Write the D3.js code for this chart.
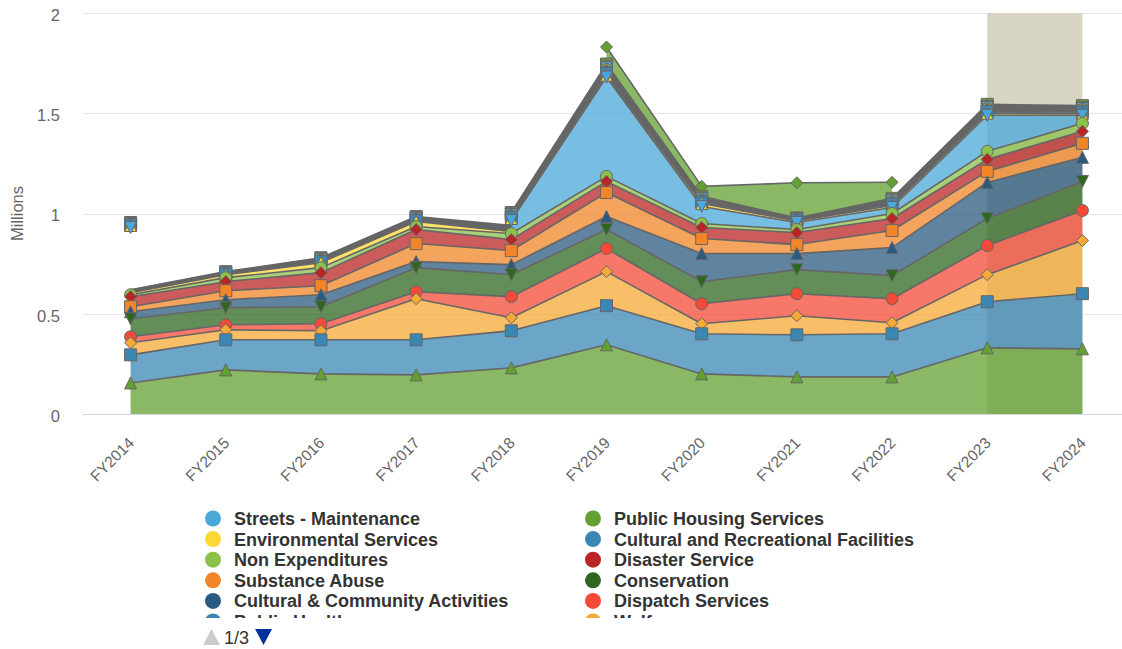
<!DOCTYPE html>
<html><head><meta charset="utf-8">
<script src="https://cdn.jsdelivr.net/npm/d3@7"></script>
<style>
body{margin:0;background:#fff;}
svg{display:block;font-family:"Liberation Sans",Arial,Helvetica,sans-serif;}
</style>
</head><body>
<svg id="chart" width="1122" height="649"></svg>
<script>
// ---------- DATA (millions) ----------
const categories = ["FY2014","FY2015","FY2016","FY2017","FY2018","FY2019","FY2020","FY2021","FY2022","FY2023","FY2024"];
const yTicks = [0, 0.5, 1, 1.5, 2];
const yTickLabels = ["0", "0.5", "1", "1.5", "2"];
const yAxisTitle = "Millions";

// stacked bottom -> top
const publicSafety        = [0.155, 0.22, 0.20, 0.195, 0.23, 0.345, 0.20, 0.185, 0.185, 0.33, 0.325];
const publicHealth        = [0.14, 0.15, 0.17, 0.175, 0.185, 0.195, 0.20, 0.21, 0.215, 0.23, 0.275];
const welfare             = [0.06, 0.05, 0.045, 0.205, 0.065, 0.17, 0.05, 0.095, 0.055, 0.135, 0.265];
const dispatchServices    = [0.03, 0.025, 0.035, 0.035, 0.105, 0.115, 0.10, 0.11, 0.12, 0.145, 0.15];
const conservation        = [0.09, 0.085, 0.085, 0.12, 0.11, 0.095, 0.11, 0.12, 0.115, 0.135, 0.145];
const culturalCommunity   = [0.035, 0.04, 0.06, 0.03, 0.05, 0.065, 0.14, 0.08, 0.14, 0.18, 0.12];
const substanceAbuse      = [0.025, 0.045, 0.045, 0.09, 0.07, 0.12, 0.075, 0.045, 0.085, 0.055, 0.07];
const disasterService     = [0.05, 0.045, 0.065, 0.07, 0.055, 0.055, 0.055, 0.06, 0.06, 0.06, 0.06];
const nonExpenditures     = [0.01, 0.02, 0.025, 0.015, 0.03, 0.025, 0.02, 0.015, 0.025, 0.04, 0.04];
const streetsMaintenance  = [0.335, null, null, null, 0.065, 0.495, 0.085, 0.035, 0.03, 0.18, 0.04];
const environmental       = [0.01, 0.015, 0.025, 0.025, 0.01, 0.01, 0.015, 0.008, 0.01, 0.01, 0.008];
const culturalRecreation  = [0.003, 0.003, 0.005, 0.005, 0.006, 0.011, 0.007, 0.003, 0.007, 0.009, 0.008];
const parks               = [0.0015, 0.0015, 0.0025, 0.0025, 0.003, 0.0055, 0.0035, 0.0015, 0.0035, 0.0045, 0.004];
const judicial            = [0.0015, 0.0015, 0.0025, 0.0025, 0.003, 0.0055, 0.0035, 0.0015, 0.0035, 0.0045, 0.004];
const libraries           = [0.0015, 0.0015, 0.0025, 0.0025, 0.003, 0.0055, 0.0035, 0.0015, 0.0035, 0.0045, 0.004];
const transit             = [0.001, 0.001, 0.002, 0.002, 0.0025, 0.0045, 0.003, 0.001, 0.003, 0.0035, 0.003];
const planning            = [0.001, 0.001, 0.002, 0.002, 0.0025, 0.0045, 0.003, 0.001, 0.003, 0.0035, 0.003];
const economicDevelopment = [0.0015, 0.0015, 0.0025, 0.0025, 0.003, 0.0055, 0.0035, 0.0015, 0.0035, 0.0045, 0.004];
const debtService         = [0.0015, 0.0015, 0.0025, 0.0025, 0.003, 0.0055, 0.0035, 0.0015, 0.0035, 0.0045, 0.004];
const generalGovernment   = [0.0025, 0.0025, 0.003, 0.003, 0.004, 0.008, 0.005, 0.0025, 0.005, 0.006, 0.006];
const publicHousing       = [null, null, null, null, null, 0.085, 0.05, 0.175, 0.08, null, null];

const seriesNames = ["Public Safety","Public Health","Welfare","Dispatch Services","Conservation",
  "Cultural & Community Activities","Substance Abuse","Disaster Service","Non Expenditures",
  "Streets - Maintenance","Environmental Services","Cultural and Recreational Facilities","Parks",
  "Judicial","Libraries","Transit","Planning & Zoning","Economic Development","Debt Service",
  "General Government","Public Housing Services"];
const seriesValues = [publicSafety, publicHealth, welfare, dispatchServices, conservation,
  culturalCommunity, substanceAbuse, disasterService, nonExpenditures, streetsMaintenance,
  environmental, culturalRecreation, parks, judicial, libraries, transit, planning,
  economicDevelopment, debtService, generalGovernment, publicHousing];

// legend order
const legendOrder = ["Streets - Maintenance","Public Housing Services","Environmental Services",
  "Cultural and Recreational Facilities","Non Expenditures","Disaster Service","Substance Abuse",
  "Conservation","Cultural & Community Activities","Dispatch Services","Public Health","Welfare",
  "Public Safety","Parks","Judicial","Libraries","Transit","Planning & Zoning","Economic Development",
  "Debt Service","General Government"];
const highlightFrom = "FY2023", highlightTo = "FY2024";

// ---------- STYLES ----------
const seriesColors = ["#63a032","#3a87b4","#f7a935","#f44a37","#2f6721","#2b5a80","#f28528","#bb2424",
  "#8cc14a","#4aa8d8","#fdd835","#3a87b4","#f44a37","#bb2424","#8cc14a","#fdd835","#4aa8d8",
  "#f28528","#bb2424","#63a032","#63a032"];
const seriesSymbols = ["triangle","square","diamond","circle","triangle-down","triangle","square","diamond",
  "circle","triangle-down","triangle","square","circle","diamond","circle","triangle","triangle-down",
  "square","diamond","square","diamond"];

// ---------- LAYOUT ----------
const plotL = 83, plotR = 1130, plotT = 13, plotB = 414;
const x = d3.scalePoint().domain(categories).range([plotL, plotR]).padding(0.5);
const y = d3.scaleLinear().domain([0, 2]).range([plotB, plotT]);
const color = d3.scaleOrdinal().domain(seriesNames).range(seriesColors);
const svg = d3.select("#chart");

// symbols (Highcharts-like, r = half box)
const R = 6;
const symbolTypes = {
  "circle": { draw(c, s){ const r=Math.sqrt(s); c.moveTo(r,0); c.arc(0,0,r,0,2*Math.PI); } },
  "square": { draw(c, s){ const r=Math.sqrt(s); c.rect(-r,-r,2*r,2*r); } },
  "diamond": { draw(c, s){ const r=Math.sqrt(s); c.moveTo(0,-r); c.lineTo(r,0); c.lineTo(0,r); c.lineTo(-r,0); c.closePath(); } },
  "triangle": { draw(c, s){ const r=Math.sqrt(s); c.moveTo(0,-r); c.lineTo(r,r); c.lineTo(-r,r); c.closePath(); } },
  "triangle-down": { draw(c, s){ const r=Math.sqrt(s); c.moveTo(-r,-r); c.lineTo(r,-r); c.lineTo(0,r); c.closePath(); } }
};
const sym = t => d3.symbol().type(symbolTypes[t]).size(R*R)();

// gridlines
svg.append("g").selectAll("line").data(yTicks.filter(d=>d>0)).join("line")
  .attr("x1", plotL).attr("x2", plotR)
  .attr("y1", d => Math.round(y(d)) + 0.5).attr("y2", d => Math.round(y(d)) + 0.5)
  .attr("stroke", "#e6e6e6").attr("stroke-width", 1);

// plot band
svg.append("rect")
  .attr("x", x(highlightFrom)).attr("width", x(highlightTo) - x(highlightFrom))
  .attr("y", y(2)).attr("height", y(0) - y(2))
  .attr("fill", "#d8d5c5");

// stacking with Highcharts-style cliffs at null points
const n = seriesValues.length, m = categories.length;
const def = (s, i) => seriesValues[s][i] != null;
function cum(s, i, keep) { let t = 0; for (let k = 0; k <= s; k++) if (def(k, i) && keep(k)) t += seriesValues[k][i]; return t; }

function segPoints(s) {
  const runs = []; let cur = [];
  for (let i = 0; i < m - 1; i++) {
    if (def(s, i) && def(s, i + 1)) {
      const keep = k => def(k, i) && def(k, i + 1);
      const lt = cum(s, i, keep), rt = cum(s, i + 1, keep);
      cur.push({ x: x(categories[i]), y1: lt, y0: lt - seriesValues[s][i] });
      cur.push({ x: x(categories[i + 1]), y1: rt, y0: rt - seriesValues[s][i + 1] });
    } else if (cur.length) { runs.push(cur); cur = []; }
  }
  if (cur.length) runs.push(cur);
  return runs;
}
const areaGen = d3.area().x(d => d.x).y0(d => y(d.y0)).y1(d => y(d.y1));
const lineGen = d3.line().x(d => d.x).y(d => y(d.y1));

const seriesG = svg.append("g");
const order = d3.range(n).reverse(); // top of stack drawn first (Highcharts index 0)
order.forEach(s => {
  const g = seriesG.append("g");
  segPoints(s).forEach(run => {
    g.append("path").attr("d", areaGen(run)).attr("fill", color(seriesNames[s])).attr("fill-opacity", 0.75);
    g.append("path").attr("d", lineGen(run)).attr("fill", "none").attr("stroke", "#666666")
      .attr("stroke-width", 1.6).attr("stroke-linejoin", "round");
  });
});

// x axis line
svg.append("line").attr("x1", plotL).attr("x2", plotR).attr("y1", plotB + 0.5).attr("y2", plotB + 0.5)
  .attr("stroke", "#ccd6eb").attr("stroke-width", 1);

// markers
const markerG = svg.append("g");
order.forEach(s => {
  for (let i = 0; i < m; i++) {
    if (!def(s, i)) continue;
    const v = cum(s, i, () => true);
    markerG.append("path").attr("d", sym(seriesSymbols[s]))
      .attr("transform", `translate(${x(categories[i])},${y(v)})`)
      .attr("fill", color(seriesNames[s])).attr("stroke", "#666666").attr("stroke-width", 1);
  }
});

// y axis labels
const yAxis = svg.append("g").attr("transform", "translate(60,0)")
  .call(d3.axisLeft(y).tickValues(yTicks).tickFormat((d, i) => yTickLabels[i]).tickSize(0).tickPadding(0));
yAxis.select(".domain").remove();
yAxis.selectAll("text").attr("font-family", "Liberation Sans, Arial, sans-serif").attr("font-size", 16.5)
  .attr("fill", "#666666").attr("x", 0).attr("dy", "0.45em");

svg.append("text").attr("transform", `translate(23,${(plotT + plotB) / 2}) rotate(-90)`)
  .attr("text-anchor", "middle").attr("font-size", 16.5).attr("fill", "#666666").text(yAxisTitle);

// x axis labels
const xAxis = svg.append("g").attr("transform", `translate(0,${plotB})`)
  .call(d3.axisBottom(x).tickSize(0));
xAxis.select(".domain").remove();
xAxis.selectAll("text").attr("font-family", "Liberation Sans, Arial, sans-serif").attr("font-size", 15.5)
  .attr("fill", "#666666").attr("text-anchor", "end").attr("y", null).attr("dy", null)
  .attr("transform", "translate(4,30) rotate(-45)");

// legend
const legendG = svg.append("g");
const clipId = "legendClip";
svg.append("defs").append("clipPath").attr("id", clipId).append("rect")
  .attr("x", 190).attr("y", 505).attr("width", 800).attr("height", 113);
const items = legendG.append("g").attr("clip-path", `url(#${clipId})`);
const colX = [213, 593], rowY0 = 518.5, rowH = 20.6, rowsPerPage = 5;
legendOrder.forEach((name, k) => {
  const col = k % 2, row = Math.floor(k / 2);
  if (row > rowsPerPage) return; // later pages are not rendered
  const gy = rowY0 + row * rowH;
  const it = items.append("g").attr("transform", `translate(${colX[col]},${gy})`);
  it.append("circle").attr("r", 8).attr("fill", color(name));
  it.append("text").attr("x", 21).attr("y", 6.5).attr("font-size", 18).attr("font-weight", "bold")
    .attr("fill", "#333333").text(name);
});
const totalRows = Math.ceil(legendOrder.length / 2);
const pages = Math.ceil(totalRows / rowsPerPage);
const nav = legendG.append("g").attr("transform", "translate(0,637)");
nav.append("path").attr("d", "M203,8 L211.5,-8 L220,8 Z").attr("fill", "#cccccc");
nav.append("text").attr("x", 224).attr("y", 7).attr("font-size", 18).attr("fill", "#333333").text(`1/${pages}`);
nav.append("path").attr("d", "M255,-8 L272,-8 L263.5,8 Z").attr("fill", "#003399");
</script>
</body></html>
